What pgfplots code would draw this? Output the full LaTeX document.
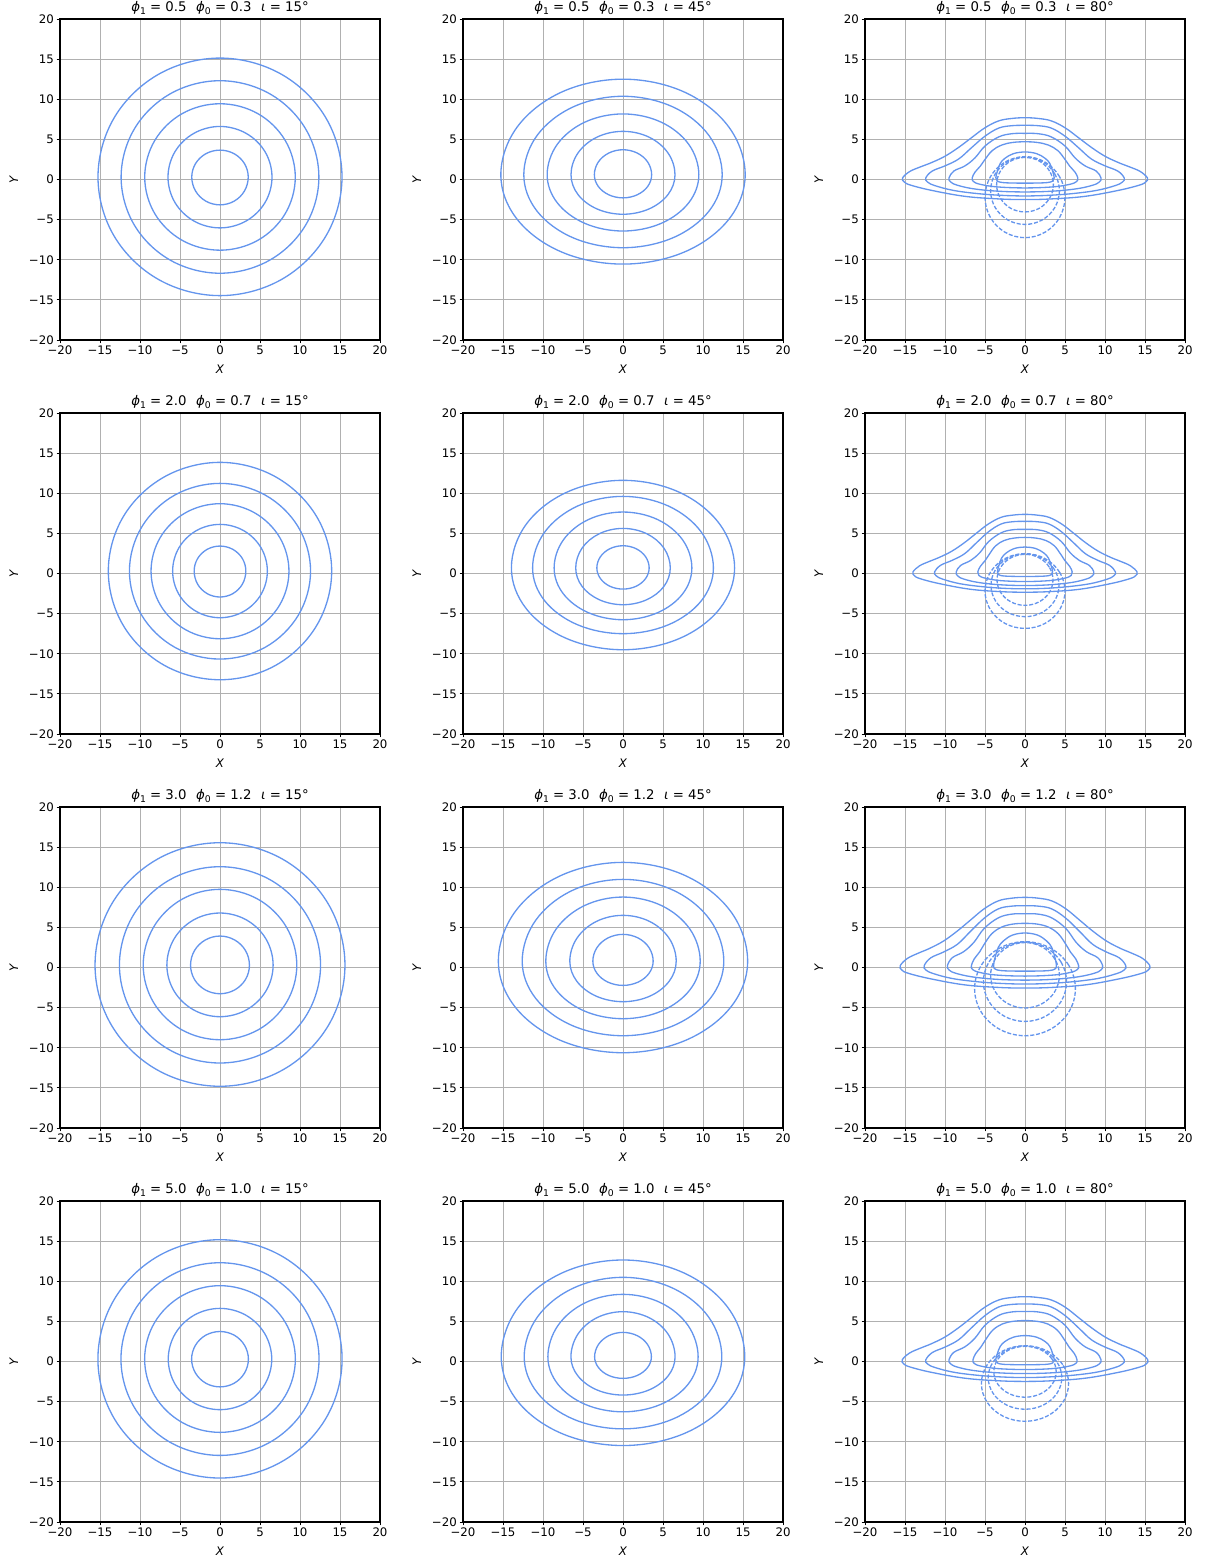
\documentclass[border=0pt]{standalone}
\usepackage{fontspec}
\setmainfont{DejaVu Sans}
\usepackage{pgfplots}
\pgfplotsset{compat=1.18}
\definecolor{gridc}{RGB}{176,176,176}
\definecolor{cb}{RGB}{100,149,237}
\newcommand{\sub}[1]{\raisebox{-0.22em}{\fontsize{6.7}{7.6}\selectfont #1}}
\newcommand{\ttl}[3]{\textit{ϕ}\sub{1} = #1\hspace{0.72em}\textit{ϕ}\sub{0} = #2\hspace{0.72em}\textit{ι} = #3°}
\pgfplotsset{panel/.style={
 scale only axis, width=230.4bp, height=231.12bp, anchor=north west,
 xmin=-20, xmax=20, ymin=-20, ymax=20,
 xtick={-20,-15,...,20}, ytick={-20,-15,...,20},
 xticklabels={−20,−15,−10,−5,0,5,10,15,20},
 yticklabels={−20,−15,−10,−5,0,5,10,15,20},
 xtick pos=bottom, ytick pos=left,
 tick align=outside, major tick length=2.5bp,
 tick style={black, line width=0.6bp},
 axis line style={line width=0.75bp},
 grid=major, grid style={gridc, line width=0.6bp},
 ticklabel style={font=\fontsize{8.5}{10}\selectfont},
 xticklabel style={inner sep=1.8bp},
 yticklabel style={inner sep=1.8bp},
 xlabel={\textit{X}}, ylabel={\textit{Y}},
 every axis x label/.style={at={(axis description cs:0.5,-0.0903)}, anchor=center, font=\fontsize{8.5}{10}\selectfont},
 every axis y label/.style={at={(axis description cs:-0.144,0.5)}, anchor=center, rotate=90, font=\fontsize{8.5}{10}\selectfont},
 every axis title/.style={at={(axis description cs:0.5,1)}, anchor=base, yshift=5.3bp, font=\fontsize{9.6}{11.2}\selectfont},
},
iso/.style={cb, line width=0.95bp, smooth cycle, tension=0.62},
ghost/.style={cb, line width=0.95bp, smooth cycle, tension=0.62, dash pattern=on 2.9bp off 1.3bp}}
\begin{document}
\begin{tikzpicture}
\useasboundingbox (0,0) rectangle (871.2bp,-1122.48bp);
% ---------------- Row 1 ----------------
\begin{axis}[panel, at={(43.2bp,-13.68bp)}, title={\ttl{0.5}{0.3}{15}}]
\addplot[iso] coordinates {(15.25,0.3)(13.21,7.72)(7.63,13.14)(0,15.13)(-7.63,13.14)(-13.21,7.72)(-15.25,0.3)(-13.21,-7.09)(-7.63,-12.49)(0,-14.47)(7.63,-12.49)(13.21,-7.09)};
\addplot[iso] coordinates {(12.36,0.3)(10.70,6.31)(6.18,10.70)(0,12.31)(-6.18,10.70)(-10.70,6.31)(-12.36,0.3)(-10.70,-5.69)(-6.18,-10.07)(0,-11.68)(6.18,-10.07)(10.70,-5.69)};
\addplot[iso] coordinates {(9.41,0.3)(8.15,4.87)(4.71,8.22)(0,9.44)(-4.71,8.22)(-8.15,4.87)(-9.41,0.3)(-8.15,-4.26)(-4.71,-7.59)(0,-8.81)(4.71,-7.59)(8.15,-4.26)};
\addplot[iso] coordinates {(6.5,0.3)(5.63,3.46)(3.25,5.76)(0,6.61)(-3.25,5.76)(-5.63,3.46)(-6.5,0.3)(-5.63,-2.87)(-3.25,-5.18)(0,-6.03)(3.25,-5.18)(5.63,-2.87)};
\addplot[iso] coordinates {(3.53,0.3)(3.06,1.98)(1.77,3.21)(0,3.66)(-1.77,3.21)(-3.06,1.98)(-3.53,0.3)(-3.06,-1.43)(-1.77,-2.70)(0,-3.16)(1.77,-2.70)(3.06,-1.43)};
\end{axis}
\begin{axis}[panel, at={(333.36bp,-13.68bp)}, title={\ttl{0.5}{0.3}{45}}]
\addplot[iso] coordinates {(15.27,0.6)(13.22,6.55)(7.64,10.91)(0,12.5)(-7.64,10.91)(-13.22,6.55)(-15.27,0.6)(-13.22,-4.97)(-7.64,-9.05)(0,-10.54)(7.64,-9.05)(13.22,-4.97)};
\addplot[iso] coordinates {(12.4,0.6)(10.74,5.49)(6.2,9.06)(0,10.37)(-6.2,9.06)(-10.74,5.49)(-12.4,0.6)(-10.74,-3.95)(-6.2,-7.28)(0,-8.5)(6.2,-7.28)(10.74,-3.95)};
\addplot[iso] coordinates {(9.48,0.6)(8.21,4.39)(4.74,7.16)(0,8.17)(-4.74,7.16)(-8.21,4.39)(-9.48,0.6)(-8.21,-2.91)(-4.74,-5.48)(0,-6.42)(4.74,-5.48)(8.21,-2.91)};
\addplot[iso] coordinates {(6.5,0.6)(5.63,3.3)(3.25,5.28)(0,6.0)(-3.25,5.28)(-5.63,3.3)(-6.5,0.6)(-5.63,-1.87)(-3.25,-3.67)(0,-4.33)(3.25,-3.67)(5.63,-1.87)};
\addplot[iso] coordinates {(3.58,0.6)(3.10,2.16)(1.79,3.29)(0,3.71)(-1.79,3.29)(-3.10,2.16)(-3.58,0.6)(-3.10,-0.85)(-1.79,-1.9)(0,-2.29)(1.79,-1.9)(3.10,-0.85)};
\end{axis}
\begin{axis}[panel, at={(622.8bp,-13.68bp)}, title={\ttl{0.5}{0.3}{80}}]
\addplot[iso] coordinates {(0,7.7)(-1.7,7.6)(-3.3,7.3)(-5,6.45)(-6.7,5.2)(-8.3,4.0)(-10,2.9)(-11.7,2.1)(-13,1.6)(-14.4,1.0)(-15.3,0.2)(-15.1,-0.3)(-14.3,-0.7)(-11.7,-1.35)(-7.5,-2.1)(-3.3,-2.42)(0,-2.5)(3.3,-2.42)(7.5,-2.1)(11.7,-1.35)(14.3,-0.7)(15.1,-0.3)(15.3,0.2)(14.4,1.0)(13,1.6)(11.7,2.1)(10,2.9)(8.3,4.0)(6.7,5.2)(5,6.45)(3.3,7.3)(1.7,7.6)};
\addplot[iso] coordinates {(0,6.75)(-1.7,6.7)(-3.3,6.4)(-5,5.4)(-6.7,3.95)(-8.3,2.55)(-10,1.7)(-11.6,1.05)(-12.4,0.2)(-12.2,-0.3)(-11.3,-0.75)(-9,-1.35)(-6,-1.75)(-3,-1.97)(0,-2.05)(3,-1.97)(6,-1.75)(9,-1.35)(11.3,-0.75)(12.2,-0.3)(12.4,0.2)(11.6,1.05)(10,1.7)(8.3,2.55)(6.7,3.95)(5,5.4)(3.3,6.4)(1.7,6.7)};
\addplot[iso] coordinates {(0,5.75)(-1.7,5.7)(-3.3,5.3)(-5,4.17)(-6.25,2.7)(-7.5,1.7)(-8.9,1.05)(-9.5,0.2)(-9.3,-0.3)(-8.5,-0.7)(-6.5,-1.15)(-3.5,-1.45)(0,-1.55)(3.5,-1.45)(6.5,-1.15)(8.5,-0.7)(9.3,-0.3)(9.5,0.2)(8.9,1.05)(7.5,1.7)(6.25,2.7)(5,4.17)(3.3,5.3)(1.7,5.7)};
\addplot[iso] coordinates {(0,4.7)(-1.5,4.62)(-2.9,4.3)(-4.1,3.6)(-5,2.5)(-5.6,1.65)(-6.25,0.92)(-6.6,0.2)(-6.45,-0.25)(-5.6,-0.6)(-3.5,-0.92)(0,-1.05)(3.5,-0.92)(5.6,-0.6)(6.45,-0.25)(6.6,0.2)(6.25,0.92)(5.6,1.65)(5,2.5)(4.1,3.6)(2.9,4.3)(1.5,4.62)};
\addplot[iso] coordinates {(0,3.43)(-1.45,3.22)(-2.5,2.65)(-3.1,2.0)(-3.45,1.05)(-3.65,0.2)(-3.45,-0.2)(-2.8,-0.38)(-1.5,-0.44)(0,-0.45)(1.5,-0.44)(2.8,-0.38)(3.45,-0.2)(3.65,0.2)(3.45,1.05)(3.1,2.0)(2.5,2.65)(1.45,3.22)};
\addplot[ghost] coordinates {(3.55,-0.65)(3.07,1.05)(1.78,2.30)(0,2.75)(-1.78,2.30)(-3.07,1.05)(-3.55,-0.65)(-3.07,-2.34)(-1.78,-3.59)(0,-4.04)(1.78,-3.59)(3.07,-2.34)};
\addplot[ghost] coordinates {(4.3,-1.4)(3.72,0.7)(2.15,2.24)(0,2.8)(-2.15,2.24)(-3.72,0.7)(-4.3,-1.4)(-3.72,-3.5)(-2.15,-5.04)(0,-5.6)(2.15,-5.04)(3.72,-3.5)};
\addplot[ghost] coordinates {(5.0,-2.2)(4.33,0.33)(2.5,2.17)(0,2.85)(-2.5,2.17)(-4.33,0.33)(-5.0,-2.2)(-4.33,-4.73)(-2.5,-6.57)(0,-7.25)(2.5,-6.57)(4.33,-4.73)};
\end{axis}
% ---------------- Row 2 ----------------
\begin{axis}[panel, at={(43.2bp,-297.36bp)}, title={\ttl{2.0}{0.7}{15}}]
\addplot[iso] coordinates {(13.96,0.3)(12.09,7.08)(6.98,12.03)(0,13.85)(-6.98,12.03)(-12.09,7.08)(-13.96,0.3)(-12.09,-6.47)(-6.98,-11.43)(0,-13.24)(6.98,-11.43)(12.09,-6.47)};
\addplot[iso] coordinates {(11.32,0.3)(9.80,5.77)(5.66,9.77)(0,11.23)(-5.66,9.77)(-9.80,5.77)(-11.32,0.3)(-9.80,-5.18)(-5.66,-9.19)(0,-10.66)(5.66,-9.19)(9.80,-5.18)};
\addplot[iso] coordinates {(8.62,0.3)(7.46,4.5)(4.31,7.57)(0,8.7)(-4.31,7.57)(-7.46,4.5)(-8.62,0.3)(-7.46,-3.92)(-4.31,-7.0)(0,-8.13)(4.31,-7.0)(7.46,-3.92)};
\addplot[iso] coordinates {(5.92,0.3)(5.13,3.21)(2.96,5.34)(0,6.12)(-2.96,5.34)(-5.13,3.21)(-5.92,0.3)(-5.13,-2.61)(-2.96,-4.73)(0,-5.51)(2.96,-4.73)(5.13,-2.61)};
\addplot[iso] coordinates {(3.23,0.3)(2.80,1.86)(1.62,3.0)(0,3.42)(-1.62,3.0)(-2.80,1.86)(-3.23,0.3)(-2.80,-1.32)(-1.62,-2.5)(0,-2.93)(1.62,-2.5)(2.80,-1.32)};
\end{axis}
\begin{axis}[panel, at={(333.36bp,-297.36bp)}, title={\ttl{2.0}{0.7}{45}}]
\addplot[iso] coordinates {(13.95,0.7)(12.08,6.16)(6.98,10.15)(0,11.61)(-6.98,10.15)(-12.08,6.16)(-13.95,0.7)(-12.08,-4.4)(-6.98,-8.13)(0,-9.5)(6.98,-8.13)(12.08,-4.4)};
\addplot[iso] coordinates {(11.3,0.7)(9.79,5.16)(5.65,8.42)(0,9.61)(-5.65,8.42)(-9.79,5.16)(-11.3,0.7)(-9.79,-3.4)(-5.65,-6.4)(0,-7.5)(5.65,-6.4)(9.79,-3.4)};
\addplot[iso] coordinates {(8.61,0.7)(7.46,4.18)(4.31,6.73)(0,7.66)(-4.31,6.73)(-7.46,4.18)(-8.61,0.7)(-7.46,-2.53)(-4.31,-4.89)(0,-5.76)(4.31,-4.89)(7.46,-2.53)};
\addplot[iso] coordinates {(5.91,0.7)(5.12,3.16)(2.96,4.96)(0,5.62)(-2.96,4.96)(-5.12,3.16)(-5.91,0.7)(-5.12,-1.6)(-2.96,-3.27)(0,-3.89)(2.96,-3.27)(5.12,-1.6)};
\addplot[iso] coordinates {(3.27,0.7)(2.83,2.08)(1.64,3.09)(0,3.46)(-1.64,3.09)(-2.83,2.08)(-3.27,0.7)(-2.83,-0.62)(-1.64,-1.59)(0,-1.94)(1.64,-1.59)(2.83,-0.62)};
\end{axis}
\begin{axis}[panel, at={(622.8bp,-297.36bp)}, title={\ttl{2.0}{0.7}{80}}]
\addplot[iso] coordinates {(0,7.37)(-1.56,7.27)(-3.02,6.99)(-4.58,6.17)(-6.13,4.98)(-7.59,3.83)(-9.15,2.78)(-10.71,2.01)(-11.9,1.53)(-13.18,0.96)(-14.0,0.2)(-13.82,-0.28)(-13.08,-0.65)(-10.71,-1.26)(-6.86,-1.96)(-3.02,-2.26)(0,-2.33)(3.02,-2.26)(6.86,-1.96)(10.71,-1.26)(13.08,-0.65)(13.82,-0.28)(14.0,0.2)(13.18,0.96)(11.9,1.53)(10.71,2.01)(9.15,2.78)(7.59,3.83)(6.13,4.98)(4.58,6.17)(3.02,6.99)(1.56,7.27)};
\addplot[iso] coordinates {(0,6.5)(-1.55,6.45)(-3.01,6.16)(-4.56,5.2)(-6.1,3.8)(-7.56,2.46)(-9.11,1.64)(-10.57,1.01)(-11.3,0.2)(-11.11,-0.28)(-10.29,-0.7)(-8.2,-1.26)(-5.47,-1.63)(-2.73,-1.84)(0,-1.91)(2.73,-1.84)(5.47,-1.63)(8.2,-1.26)(10.29,-0.7)(11.11,-0.28)(11.3,0.2)(10.57,1.01)(9.11,1.64)(7.56,2.46)(6.1,3.8)(4.56,5.2)(3.01,6.16)(1.55,6.45)};
\addplot[iso] coordinates {(0,5.5)(-1.54,5.45)(-2.99,5.07)(-4.53,3.99)(-5.66,2.58)(-6.79,1.63)(-8.05,1.0)(-8.6,0.2)(-8.42,-0.29)(-7.69,-0.68)(-5.88,-1.11)(-3.17,-1.4)(0,-1.5)(3.17,-1.4)(5.88,-1.11)(7.69,-0.68)(8.42,-0.29)(8.6,0.2)(8.05,1.0)(6.79,1.63)(5.66,2.58)(4.53,3.99)(2.99,5.07)(1.54,5.45)};
\addplot[iso] coordinates {(0,4.5)(-1.34,4.42)(-2.59,4.12)(-3.67,3.45)(-4.47,2.39)(-5.01,1.58)(-5.59,0.88)(-5.9,0.2)(-5.77,-0.24)(-5.01,-0.57)(-3.13,-0.88)(0,-1.0)(3.13,-0.88)(5.01,-0.57)(5.77,-0.24)(5.9,0.2)(5.59,0.88)(5.01,1.58)(4.47,2.39)(3.67,3.45)(2.59,4.12)(1.34,4.42)};
\addplot[iso] coordinates {(0,3.3)(-1.37,3.1)(-2.36,2.55)(-2.93,1.92)(-3.26,1.01)(-3.45,0.2)(-3.26,-0.16)(-2.65,-0.31)(-1.42,-0.36)(0,-0.37)(1.42,-0.36)(2.65,-0.31)(3.26,-0.16)(3.45,0.2)(3.26,1.01)(2.93,1.92)(2.36,2.55)(1.37,3.1)};
\addplot[ghost] coordinates {(3.5,-0.79)(3.03,0.8)(1.75,1.96)(0,2.39)(-1.75,1.96)(-3.03,0.8)(-3.5,-0.79)(-3.03,-2.38)(-1.75,-3.54)(0,-3.97)(1.75,-3.54)(3.03,-2.38)};
\addplot[ghost] coordinates {(4.25,-1.47)(3.68,0.49)(2.13,1.92)(0,2.44)(-2.13,1.92)(-3.68,0.49)(-4.25,-1.47)(-3.68,-3.43)(-2.13,-4.86)(0,-5.38)(2.13,-4.86)(3.68,-3.43)};
\addplot[ghost] coordinates {(5.0,-2.18)(4.33,0.15)(2.5,1.86)(0,2.48)(-2.5,1.86)(-4.33,0.15)(-5.0,-2.18)(-4.33,-4.51)(-2.5,-6.22)(0,-6.84)(2.5,-6.22)(4.33,-4.51)};
\end{axis}
% ---------------- Row 3 ----------------
\begin{axis}[panel, at={(43.2bp,-581.04bp)}, title={\ttl{3.0}{1.2}{15}}]
\addplot[iso] coordinates {(15.62,0.3)(13.53,7.93)(7.81,13.51)(0,15.55)(-7.81,13.51)(-13.53,7.93)(-15.62,0.3)(-13.53,-7.25)(-7.81,-12.78)(0,-14.8)(7.81,-12.78)(13.53,-7.25)};
\addplot[iso] coordinates {(12.57,0.3)(10.89,6.43)(6.29,10.92)(0,12.56)(-6.29,10.92)(-10.89,6.43)(-12.57,0.3)(-10.89,-5.8)(-6.29,-10.27)(0,-11.9)(6.29,-10.27)(10.89,-5.8)};
\addplot[iso] coordinates {(9.6,0.3)(8.31,5.02)(4.8,8.48)(0,9.74)(-4.8,8.48)(-8.31,5.02)(-9.6,0.3)(-8.31,-4.35)(-4.8,-7.75)(0,-9.0)(4.8,-7.75)(8.31,-4.35)};
\addplot[iso] coordinates {(6.64,0.3)(5.75,3.55)(3.32,5.92)(0,6.79)(-3.32,5.92)(-5.75,3.55)(-6.64,0.3)(-5.75,-2.92)(-3.32,-5.27)(0,-6.13)(3.32,-5.27)(5.75,-2.92)};
\addplot[iso] coordinates {(3.68,0.3)(3.19,2.11)(1.84,3.43)(0,3.92)(-1.84,3.43)(-3.19,2.11)(-3.68,0.3)(-3.19,-1.49)(-1.84,-2.79)(0,-3.27)(1.84,-2.79)(3.19,-1.49)};
\end{axis}
\begin{axis}[panel, at={(333.36bp,-581.04bp)}, title={\ttl{3.0}{1.2}{45}}]
\addplot[iso] coordinates {(15.58,0.8)(13.49,6.95)(7.79,11.45)(0,13.1)(-7.79,11.45)(-13.49,6.95)(-15.58,0.8)(-13.49,-4.91)(-7.79,-9.09)(0,-10.62)(7.79,-9.09)(13.49,-4.91)};
\addplot[iso] coordinates {(12.6,0.8)(10.91,5.89)(6.3,9.62)(0,10.98)(-6.3,9.62)(-10.91,5.89)(-12.6,0.8)(-10.91,-3.85)(-6.3,-7.25)(0,-8.5)(6.3,-7.25)(10.91,-3.85)};
\addplot[iso] coordinates {(9.65,0.8)(8.36,4.79)(4.83,7.71)(0,8.78)(-4.83,7.71)(-8.36,4.79)(-9.65,0.8)(-8.36,-2.79)(-4.83,-5.42)(0,-6.38)(4.83,-5.42)(8.36,-2.79)};
\addplot[iso] coordinates {(6.65,0.8)(5.76,3.65)(3.33,5.74)(0,6.5)(-3.33,5.74)(-5.76,3.65)(-6.65,0.8)(-5.76,-1.73)(-3.33,-3.58)(0,-4.26)(3.33,-3.58)(5.76,-1.73)};
\addplot[iso] coordinates {(3.77,0.8)(3.26,2.47)(1.89,3.68)(0,4.13)(-1.89,3.68)(-3.26,2.47)(-3.77,0.8)(-3.26,-0.72)(-1.89,-1.82)(0,-2.23)(1.89,-1.82)(3.26,-0.72)};
\end{axis}
\begin{axis}[panel, at={(622.8bp,-581.04bp)}, title={\ttl{3.0}{1.2}{80}}]
\addplot[iso] coordinates {(0,8.74)(-1.73,8.63)(-3.37,8.29)(-5.1,7.32)(-6.83,5.9)(-8.47,4.54)(-10.2,3.29)(-11.93,2.38)(-13.26,1.82)(-14.69,1.14)(-15.6,0.23)(-15.4,-0.31)(-14.59,-0.72)(-11.93,-1.38)(-7.65,-2.15)(-3.37,-2.48)(0,-2.56)(3.37,-2.48)(7.65,-2.15)(11.93,-1.38)(14.59,-0.72)(15.4,-0.31)(15.6,0.23)(14.69,1.14)(13.26,1.82)(11.93,2.38)(10.2,3.29)(8.47,4.54)(6.83,5.9)(5.1,7.32)(3.37,8.29)(1.73,8.63)};
\addplot[iso] coordinates {(0,7.7)(-1.73,7.64)(-3.35,7.3)(-5.08,6.16)(-6.81,4.51)(-8.43,2.91)(-10.16,1.94)(-11.79,1.2)(-12.6,0.23)(-12.4,-0.3)(-11.48,-0.75)(-9.14,-1.36)(-6.1,-1.76)(-3.05,-1.98)(0,-2.06)(3.05,-1.98)(6.1,-1.76)(9.14,-1.36)(11.48,-0.75)(12.4,-0.3)(12.6,0.23)(11.79,1.2)(10.16,1.94)(8.43,2.91)(6.81,4.51)(5.08,6.16)(3.35,7.3)(1.73,7.64)};
\addplot[iso] coordinates {(0,6.7)(-1.74,6.64)(-3.37,6.17)(-5.11,4.86)(-6.38,3.15)(-7.66,1.98)(-9.09,1.22)(-9.7,0.23)(-9.5,-0.3)(-8.68,-0.71)(-6.64,-1.16)(-3.57,-1.47)(0,-1.57)(3.57,-1.47)(6.64,-1.16)(8.68,-0.71)(9.5,-0.3)(9.7,0.23)(9.09,1.22)(7.66,1.98)(6.38,3.15)(5.11,4.86)(3.37,6.17)(1.74,6.64)};
\addplot[iso] coordinates {(0,5.5)(-1.52,5.41)(-2.94,5.03)(-4.16,4.2)(-5.08,2.93)(-5.68,1.93)(-6.34,1.08)(-6.7,0.23)(-6.55,-0.25)(-5.68,-0.61)(-3.55,-0.94)(0,-1.07)(3.55,-0.94)(5.68,-0.61)(6.55,-0.25)(6.7,0.23)(6.34,1.08)(5.68,1.93)(5.08,2.93)(4.16,4.2)(2.94,5.03)(1.52,5.41)};
\addplot[iso] coordinates {(0,4.3)(-1.56,4.04)(-2.69,3.32)(-3.34,2.51)(-3.72,1.32)(-3.93,0.25)(-3.72,-0.2)(-3.02,-0.38)(-1.62,-0.44)(0,-0.45)(1.62,-0.44)(3.02,-0.38)(3.72,-0.2)(3.93,0.25)(3.72,1.32)(3.34,2.51)(2.69,3.32)(1.56,4.04)};
\addplot[ghost] coordinates {(4.3,-0.97)(3.72,1.07)(2.15,2.56)(0,3.11)(-2.15,2.56)(-3.72,1.07)(-4.3,-0.97)(-3.72,-3.01)(-2.15,-4.5)(0,-5.05)(2.15,-4.5)(3.72,-3.01)};
\addplot[ghost] coordinates {(5.2,-1.78)(4.5,0.69)(2.6,2.5)(0,3.16)(-2.6,2.5)(-4.5,0.69)(-5.2,-1.78)(-4.5,-4.25)(-2.6,-6.06)(0,-6.72)(2.6,-6.06)(4.5,-4.25)};
\addplot[ghost] coordinates {(6.3,-2.64)(5.46,0.29)(3.15,2.43)(0,3.22)(-3.15,2.43)(-5.46,0.29)(-6.3,-2.64)(-5.46,-5.57)(-3.15,-7.71)(0,-8.5)(3.15,-7.71)(5.46,-5.57)};
\end{axis}
% ---------------- Row 4 ----------------
\begin{axis}[panel, at={(43.2bp,-864.72bp)}, title={\ttl{5.0}{1.0}{15}}]
\addplot[iso] coordinates {(15.26,0.3)(13.22,7.74)(7.63,13.19)(0,15.18)(-7.63,13.19)(-13.22,7.74)(-15.26,0.3)(-13.22,-7.11)(-7.63,-12.53)(0,-14.52)(7.63,-12.53)(13.22,-7.11)};
\addplot[iso] coordinates {(12.38,0.3)(10.72,6.31)(6.19,10.70)(0,12.31)(-6.19,10.70)(-10.72,6.31)(-12.38,0.3)(-10.72,-5.7)(-6.19,-10.09)(0,-11.7)(6.19,-10.09)(10.72,-5.7)};
\addplot[iso] coordinates {(9.42,0.3)(8.16,4.88)(4.71,8.22)(0,9.45)(-4.71,8.22)(-8.16,4.88)(-9.42,0.3)(-8.16,-4.27)(-4.71,-7.61)(0,-8.83)(4.71,-7.61)(8.16,-4.27)};
\addplot[iso] coordinates {(6.47,0.3)(5.60,3.46)(3.24,5.77)(0,6.62)(-3.24,5.77)(-5.60,3.46)(-6.47,0.3)(-5.60,-2.85)(-3.24,-5.16)(0,-6.0)(3.24,-5.16)(5.60,-2.85)};
\addplot[iso] coordinates {(3.55,0.3)(3.07,2.02)(1.78,3.28)(0,3.74)(-1.78,3.28)(-3.07,2.02)(-3.55,0.3)(-3.07,-1.43)(-1.78,-2.7)(0,-3.16)(1.78,-2.7)(3.07,-1.43)};
\end{axis}
\begin{axis}[panel, at={(333.36bp,-864.72bp)}, title={\ttl{5.0}{1.0}{45}}]
\addplot[iso] coordinates {(15.22,0.6)(13.18,6.63)(7.61,11.04)(0,12.65)(-7.61,11.04)(-13.18,6.63)(-15.22,0.6)(-13.18,-4.94)(-7.61,-8.99)(0,-10.47)(7.61,-8.99)(13.18,-4.94)};
\addplot[iso] coordinates {(12.35,0.6)(10.70,5.55)(6.18,9.16)(0,10.49)(-6.18,9.16)(-10.70,5.55)(-12.35,0.6)(-10.70,-3.9)(-6.18,-7.19)(0,-8.39)(6.18,-7.19)(10.70,-3.9)};
\addplot[iso] coordinates {(9.39,0.6)(8.13,4.49)(4.7,7.33)(0,8.37)(-4.7,7.33)(-8.13,4.49)(-9.39,0.6)(-8.13,-2.84)(-4.7,-5.35)(0,-6.27)(4.7,-5.35)(8.13,-2.84)};
\addplot[iso] coordinates {(6.51,0.6)(5.64,3.41)(3.26,5.46)(0,6.21)(-3.26,5.46)(-5.64,3.41)(-6.51,0.6)(-5.64,-1.79)(-3.26,-3.54)(0,-4.18)(3.26,-3.54)(5.64,-1.79)};
\addplot[iso] coordinates {(3.55,0.6)(3.07,2.12)(1.78,3.22)(0,3.63)(-1.78,3.22)(-3.07,2.12)(-3.55,0.6)(-3.07,-0.75)(-1.78,-1.74)(0,-2.1)(1.78,-1.74)(3.07,-0.75)};
\end{axis}
\begin{axis}[panel, at={(622.8bp,-864.72bp)}, title={\ttl{5.0}{1.0}{80}}]
\addplot[iso] coordinates {(0,8.08)(-1.7,7.97)(-3.31,7.66)(-5.02,6.77)(-6.72,5.45)(-8.32,4.2)(-10.03,3.04)(-11.74,2.2)(-13.04,1.68)(-14.44,1.05)(-15.35,0.21)(-15.15,-0.3)(-14.34,-0.69)(-11.74,-1.34)(-7.52,-2.08)(-3.31,-2.4)(0,-2.48)(3.31,-2.4)(7.52,-2.08)(11.74,-1.34)(14.34,-0.69)(15.15,-0.3)(15.35,0.21)(14.44,1.05)(13.04,1.68)(11.74,2.2)(10.03,3.04)(8.32,4.2)(6.72,5.45)(5.02,6.77)(3.31,7.66)(1.7,7.97)};
\addplot[iso] coordinates {(0,7.16)(-1.7,7.11)(-3.3,6.79)(-5,5.73)(-6.7,4.19)(-8.3,2.71)(-10,1.8)(-11.6,1.11)(-12.4,0.21)(-12.2,-0.29)(-11.3,-0.73)(-9,-1.32)(-6,-1.71)(-3,-1.92)(0,-2.0)(3,-1.92)(6,-1.71)(9,-1.32)(11.3,-0.73)(12.2,-0.29)(12.4,0.21)(11.6,1.11)(10,1.8)(8.3,2.71)(6.7,4.19)(5,5.73)(3.3,6.79)(1.7,7.11)};
\addplot[iso] coordinates {(0,6.23)(-1.7,6.17)(-3.3,5.74)(-5,4.52)(-6.25,2.92)(-7.5,1.84)(-8.9,1.14)(-9.5,0.22)(-9.3,-0.29)(-8.5,-0.68)(-6.5,-1.11)(-3.5,-1.4)(0,-1.5)(3.5,-1.4)(6.5,-1.11)(8.5,-0.68)(9.3,-0.29)(9.5,0.22)(8.9,1.14)(7.5,1.84)(6.25,2.92)(5,4.52)(3.3,5.74)(1.7,6.17)};
\addplot[iso] coordinates {(0,5.1)(-1.48,5.01)(-2.86,4.67)(-4.04,3.9)(-4.93,2.71)(-5.52,1.79)(-6.16,1.0)(-6.5,0.22)(-6.35,-0.24)(-5.52,-0.57)(-3.45,-0.88)(0,-1.0)(3.45,-0.88)(5.52,-0.57)(6.35,-0.24)(6.5,0.22)(6.16,1.0)(5.52,1.79)(4.93,2.71)(4.04,3.9)(2.86,4.67)(1.48,5.01)};
\addplot[iso] coordinates {(0,3.23)(-1.45,3.03)(-2.5,2.5)(-3.1,1.88)(-3.45,0.99)(-3.66,0.19)(-3.45,-0.18)(-2.8,-0.34)(-1.5,-0.39)(0,-0.4)(1.5,-0.39)(2.8,-0.34)(3.45,-0.18)(3.66,0.19)(3.45,0.99)(3.1,1.88)(2.5,2.5)(1.45,3.03)};
\addplot[ghost] coordinates {(3.9,-1.28)(3.38,0.31)(1.95,1.47)(0,1.9)(-1.95,1.47)(-3.38,0.31)(-3.9,-1.28)(-3.38,-2.86)(-1.95,-4.02)(0,-4.45)(1.95,-4.02)(3.38,-2.86)};
\addplot[ghost] coordinates {(4.6,-2.01)(3.98,-0.04)(2.3,1.4)(0,1.93)(-2.3,1.4)(-3.98,-0.04)(-4.6,-2.01)(-3.98,-3.98)(-2.3,-5.42)(0,-5.95)(2.3,-5.42)(3.98,-3.98)};
\addplot[ghost] coordinates {(5.45,-2.74)(4.72,-0.39)(2.73,1.34)(0,1.97)(-2.73,1.34)(-4.72,-0.39)(-5.45,-2.74)(-4.72,-5.1)(-2.73,-6.82)(0,-7.45)(2.73,-6.82)(4.72,-5.1)};
\end{axis}
\end{tikzpicture}
\end{document}
